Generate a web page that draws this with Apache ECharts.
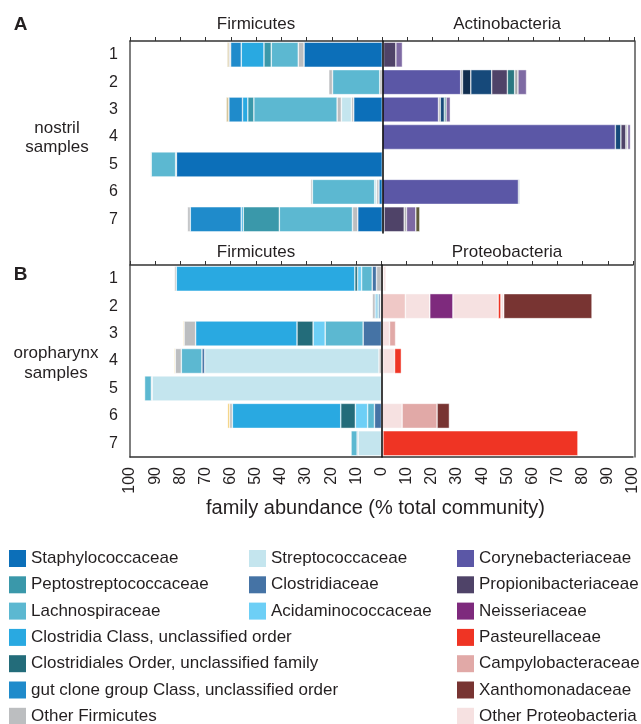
<!DOCTYPE html>
<html>
<head>
<meta charset="utf-8">
<script src="https://cdn.jsdelivr.net/npm/echarts@6/dist/echarts.min.js"></script>
<style>
html,body{margin:0;padding:0;background:#fff;}
#chart{width:641px;height:724px;}
</style>
</head>
<body>
<div id="chart"></div>
<script>
// ---------- data ----------
const rows = ['1', '2', '3', '4', '5', '6', '7'];
const axisTicks = [-100, -90, -80, -70, -60, -50, -40, -30, -20, -10, 0, 10, 20, 30, 40, 50, 60, 70, 80, 90, 100];

// Panel A (nostril) – Firmicutes, % (drawn leftwards), listed from the centre outwards
const nosStaph = [31.0, 0, 11.3, 0, 81.6, 1.3, 9.7];
const nosOtherFirmInner = [2.3, 1.0, 0.9, 0, 0.3, 0.9, 2.1];
const nosStrep = [0, 0, 4.0, 0, 0, 0.8, 0];
const nosOtherFirmMid = [0, 0, 1.7, 0, 0, 0, 0];
const nosLachno = [10.7, 18.7, 33.0, 0, 9.7, 24.7, 29.0];
const nosPepto = [2.9, 0, 2.4, 0, 0, 0, 14.3];
const nosClostridia = [9.0, 0, 2.1, 0, 0, 0, 0.8];
const nosGutClone = [4.2, 0, 5.4, 0, 0, 0, 20.2];
const nosOtherFirmOuter = [0.6, 1.5, 0, 0, 0.3, 0.7, 1.1];
const nosFirmMinor = [0.8, 0, 1.1, 0, 0, 0, 0];

// Panel A (nostril) – Actinobacteria, %
const nosCoryne = [0.5, 31.1, 22.3, 92.4, 0, 54.0, 0];
const nosActGrayInner = [0, 0.7, 0.7, 0, 0, 0, 0];
const nosActNavy = [0, 3.3, 0, 0, 0, 0, 0];
const nosActBlue = [0, 8.3, 1.6, 2.2, 0, 0.4, 0.7];
const nosPropioni = [4.9, 6.2, 0, 2.0, 0, 0, 8.0];
const nosActTeal = [0, 2.9, 0.7, 0, 0, 0, 0];
const nosActGrayOuter = [0, 1.3, 0, 0.7, 0, 0, 0.9];
const nosActLilac = [2.6, 3.4, 1.7, 1.1, 0, 0, 3.7];
const nosActOlive = [0, 0, 0, 0, 0, 0, 1.6];

// Panel B (oropharynx) – Firmicutes, %
const oroOtherFirmInner = [2.0, 0.5, 0, 1.0, 0, 0, 0];
const oroStrep = [0, 0, 0, 69.3, 91.2, 0, 9.3];
const oroClostridiaceae = [1.7, 0.6, 7.3, 1.1, 0.3, 2.8, 0.4];
const oroLachno = [4.2, 0.7, 15.1, 8.2, 2.7, 2.7, 2.4];
const oroAcidamino = [1.6, 0, 4.8, 0, 0, 4.9, 0];
const oroClostridiales = [1.1, 0, 6.4, 0, 0, 5.8, 0];
const oroClostridia = [71.0, 0.7, 40.3, 0, 0, 43.1, 0];
const oroOtherFirmOuter = [0.7, 1.1, 4.6, 2.4, 0, 1.1, 0];
const oroFirmMinor = [0, 0, 0.4, 0.4, 0, 0.8, 0];

// Panel B (oropharynx) – Proteobacteria, %
const oroProteoPink = [0.8, 9.5, 0, 0.5, 0, 0, 0];
const oroOtherProteoInner = [1.0, 9.7, 3.2, 4.7, 0, 8.2, 0.6];
const oroCampylo = [0, 0, 2.4, 0, 0, 13.9, 0];
const oroNeisseria = [0, 9.2, 0, 0, 0, 0, 0];
const oroOtherProteoMid = [0, 18.0, 0, 0, 0, 0, 0];
const oroPasteur = [0, 1.1, 0, 2.7, 0, 0, 77.5];
const oroOtherProteoOuter = [0, 1.1, 0, 0, 0, 0, 0];
const oroXantho = [0, 35.1, 0, 0, 0, 4.9, 0];

// ---------- styles ----------
const C = {
  'Staphylococcaceae': '#0c6fb9',
  'Peptostreptococcaceae': '#3a98aa',
  'Lachnospiraceae': '#5cb8d1',
  'Clostridia Class, unclassified order': '#29a9e1',
  'Clostridiales Order, unclassified family': '#236c7a',
  'gut clone group Class, unclassified order': '#1f8bcb',
  'Other Firmicutes': '#bcbec0',
  'Streptococcaceae': '#c4e5ee',
  'Clostridiaceae': '#4573a5',
  'Acidaminococcaceae': '#6dcff6',
  'Corynebacteriaceae': '#5b57a6',
  'Propionibacteriaceae': '#4f4368',
  'Neisseriaceae': '#7e2a7d',
  'Pasteurellaceae': '#ef3424',
  'Campylobacteraceae': '#e1a9a7',
  'Xanthomonadaceae': '#783432',
  'Other Proteobacteria': '#f6e1e1',
  'minor Firmicutes (A)': '#d5c69c',
  'minor Firmicutes (B)': '#f1c966',
  'minor Actinobacteria grey': '#a7a9ac',
  'minor Actinobacteria navy': '#112e4f',
  'minor Actinobacteria blue': '#16497a',
  'minor Actinobacteria teal': '#2a7781',
  'minor Actinobacteria lilac': '#7e6aa3',
  'minor Actinobacteria olive': '#5f5b3b',
  'minor Proteobacteria pink': '#efc8c6'
};
const FONT = "'Liberation Sans', Arial, sans-serif";
const TXT = '#231f20';

function bars(name, values, panel, sign) {
  const g = panel === 'A' ? 0 : 1;
  return {
    type: 'bar', name: name, stack: panel,
    xAxisIndex: g, yAxisIndex: g === 0 ? 0 : 2,
    barWidth: 25, silent: true,
    data: values.map(v => v ? sign * v : null),
    itemStyle: { color: C[name], borderColor: 'rgba(255,255,255,0.75)', borderWidth: 0.6 }
  };
}

const series = [
  // panel A left (from the centre outwards)
  bars('Staphylococcaceae', nosStaph, 'A', -1),
  bars('Other Firmicutes', nosOtherFirmInner, 'A', -1),
  bars('Streptococcaceae', nosStrep, 'A', -1),
  bars('Other Firmicutes', nosOtherFirmMid, 'A', -1),
  bars('Lachnospiraceae', nosLachno, 'A', -1),
  bars('Peptostreptococcaceae', nosPepto, 'A', -1),
  bars('Clostridia Class, unclassified order', nosClostridia, 'A', -1),
  bars('gut clone group Class, unclassified order', nosGutClone, 'A', -1),
  bars('Other Firmicutes', nosOtherFirmOuter, 'A', -1),
  bars('minor Firmicutes (A)', nosFirmMinor, 'A', -1),
  // panel A right
  bars('Corynebacteriaceae', nosCoryne, 'A', 1),
  bars('minor Actinobacteria grey', nosActGrayInner, 'A', 1),
  bars('minor Actinobacteria navy', nosActNavy, 'A', 1),
  bars('minor Actinobacteria blue', nosActBlue, 'A', 1),
  bars('Propionibacteriaceae', nosPropioni, 'A', 1),
  bars('minor Actinobacteria teal', nosActTeal, 'A', 1),
  bars('minor Actinobacteria grey', nosActGrayOuter, 'A', 1),
  bars('minor Actinobacteria lilac', nosActLilac, 'A', 1),
  bars('minor Actinobacteria olive', nosActOlive, 'A', 1),
  // panel B left
  bars('Other Firmicutes', oroOtherFirmInner, 'B', -1),
  bars('Streptococcaceae', oroStrep, 'B', -1),
  bars('Clostridiaceae', oroClostridiaceae, 'B', -1),
  bars('Lachnospiraceae', oroLachno, 'B', -1),
  bars('Acidaminococcaceae', oroAcidamino, 'B', -1),
  bars('Clostridiales Order, unclassified family', oroClostridiales, 'B', -1),
  bars('Clostridia Class, unclassified order', oroClostridia, 'B', -1),
  bars('Other Firmicutes', oroOtherFirmOuter, 'B', -1),
  bars('minor Firmicutes (B)', oroFirmMinor, 'B', -1),
  // panel B right
  bars('minor Proteobacteria pink', oroProteoPink, 'B', 1),
  bars('Other Proteobacteria', oroOtherProteoInner, 'B', 1),
  bars('Campylobacteraceae', oroCampylo, 'B', 1),
  bars('Neisseriaceae', oroNeisseria, 'B', 1),
  bars('Other Proteobacteria', oroOtherProteoMid, 'B', 1),
  bars('Pasteurellaceae', oroPasteur, 'B', 1),
  bars('Other Proteobacteria', oroOtherProteoOuter, 'B', 1),
  bars('Xanthomonadaceae', oroXantho, 'B', 1)
];

const legendCols = [
  ['Staphylococcaceae', 'Peptostreptococcaceae', 'Lachnospiraceae', 'Clostridia Class, unclassified order',
   'Clostridiales Order, unclassified family', 'gut clone group Class, unclassified order', 'Other Firmicutes'],
  ['Streptococcaceae', 'Clostridiaceae', 'Acidaminococcaceae'],
  ['Corynebacteriaceae', 'Propionibacteriaceae', 'Neisseriaceae', 'Pasteurellaceae',
   'Campylobacteraceae', 'Xanthomonadaceae', 'Other Proteobacteria']
];
const legendLeft = [9, 249, 457];

const topAxis = (g) => ({
  gridIndex: g, type: 'value', min: -100, max: 100, interval: 10, position: 'top',
  axisLine: { show: true, onZero: false, lineStyle: { color: '#333', width: 1.5 } },
  axisTick: { show: true, inside: false, length: 4, lineStyle: { color: '#333', width: 1 } },
  axisLabel: { show: false }, splitLine: { show: false }
});
const labelAxis = (g) => ({
  gridIndex: g, type: 'category', data: rows, inverse: true, position: 'left',
  axisLine: { show: false, onZero: false }, axisTick: { show: false },
  axisLabel: { fontSize: 16, color: TXT, fontFamily: FONT, margin: 12 }
});
const centreAxis = (g) => ({
  gridIndex: g, type: 'category', data: rows, inverse: true, position: 'right', z: 10,
  axisLine: { show: true, onZero: true, lineStyle: { color: '#111', width: 1.6 } },
  axisTick: { show: false }, axisLabel: { show: false }
});

const option = {
  animation: false,
  backgroundColor: '#fff',
  textStyle: { fontFamily: FONT },
  grid: [
    { left: 130, right: 6.5, top: 41, height: 192 },
    { left: 130, right: 6.5, top: 265, height: 192 },
    { left: 130, right: 6.5, top: 41, height: 416 }
  ],
  xAxis: [
    topAxis(0),
    topAxis(1),
    {
      gridIndex: 1, type: 'value', min: -100, max: 100, interval: 10, position: 'bottom',
      axisLine: { show: true, onZero: false, lineStyle: { color: '#333', width: 1.5 } },
      axisTick: { show: false }, splitLine: { show: false },
      axisLabel: {
        rotate: 90, margin: 10, fontSize: 16, color: TXT, fontFamily: FONT,
        customValues: axisTicks, formatter: v => String(Math.abs(v))
      },
      name: 'family abundance (% total community)', nameLocation: 'middle', nameGap: 41,
      nameTextStyle: { fontSize: 20, color: TXT, fontFamily: FONT, padding: [0, 12, 0, 0] }
    },
    { gridIndex: 2, type: 'value', min: -100, max: 100, show: false }
  ],
  yAxis: [
    labelAxis(0),
    centreAxis(0),
    labelAxis(1),
    centreAxis(1),
    {
      gridIndex: 2, type: 'value', min: 0, max: 1, position: 'left',
      axisLine: { show: true, onZero: false, lineStyle: { color: '#555', width: 1.5 } },
      axisTick: { show: false }, axisLabel: { show: false }, splitLine: { show: false }
    },
    {
      gridIndex: 2, type: 'value', min: 0, max: 1, position: 'right',
      axisLine: { show: true, onZero: false, lineStyle: { color: '#555', width: 1.5 } },
      axisTick: { show: false }, axisLabel: { show: false }, splitLine: { show: false }
    }
  ],
  legend: legendCols.map((names, i) => ({
    data: names, orient: 'vertical', left: legendLeft[i], top: 550, padding: 0,
    height: 200, width: 200,
    itemWidth: 17, itemHeight: 17, itemGap: 9.3, icon: 'rect',
    selectedMode: false,
    itemStyle: { borderWidth: 0 },
    textStyle: { fontSize: 17, color: TXT, fontFamily: FONT, padding: [0, 0, 0, 0] }
  })),
  graphic: [
    { type: 'text', style: { text: 'A', x: 20.5, y: 25, align: 'center', verticalAlign: 'middle', font: 'bold 19px ' + FONT, fill: TXT } },
    { type: 'text', style: { text: 'B', x: 20.5, y: 275, align: 'center', verticalAlign: 'middle', font: 'bold 19px ' + FONT, fill: TXT } },
    { type: 'text', style: { text: 'Firmicutes', x: 256, y: 24, align: 'center', verticalAlign: 'middle', font: '17px ' + FONT, fill: TXT } },
    { type: 'text', style: { text: 'Actinobacteria', x: 507, y: 24, align: 'center', verticalAlign: 'middle', font: '17px ' + FONT, fill: TXT } },
    { type: 'text', style: { text: 'Firmicutes', x: 256, y: 252, align: 'center', verticalAlign: 'middle', font: '17px ' + FONT, fill: TXT } },
    { type: 'text', style: { text: 'Proteobacteria', x: 507, y: 252, align: 'center', verticalAlign: 'middle', font: '17px ' + FONT, fill: TXT } },
    { type: 'text', style: { text: 'nostril\nsamples', x: 57, y: 138, align: 'center', verticalAlign: 'middle', font: '17px ' + FONT, lineHeight: 19, fill: TXT } },
    { type: 'text', style: { text: 'oropharynx\nsamples', x: 56, y: 363, align: 'center', verticalAlign: 'middle', font: '17px ' + FONT, lineHeight: 20, fill: TXT } }
  ],
  series: series
};

const chart = echarts.init(document.getElementById('chart'), null, { renderer: 'canvas' });
chart.setOption(option);
</script>
</body>
</html>
